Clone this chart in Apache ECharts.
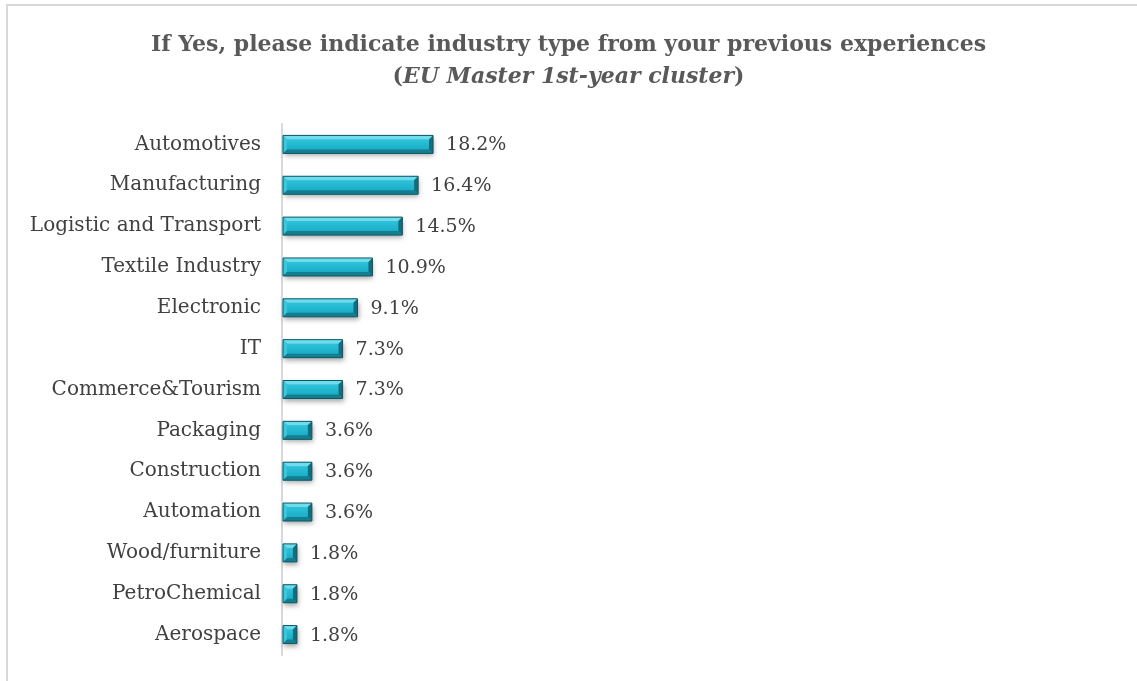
<!DOCTYPE html>
<html>
<head>
<meta charset="utf-8">
<script src="https://cdn.jsdelivr.net/npm/echarts@6/dist/echarts.min.js"></script>
<style>
  html, body { margin: 0; padding: 0; background: #fff; }
  #chart { width: 1137px; height: 681px; }
</style>
</head>
<body>
<div id="chart"></div>
<script>
// Industry types reported from previous work experience
const categories = [
  'Automotives', 'Manufacturing', 'Logistic and Transport', 'Textile Industry',
  'Electronic', 'IT', 'Commerce&Tourism', 'Packaging', 'Construction',
  'Automation', 'Wood/furniture', 'PetroChemical', 'Aerospace'
];
const shares = [18.2, 16.4, 14.5, 10.9, 9.1, 7.3, 7.3, 3.6, 3.6, 3.6, 1.8, 1.8, 1.8];

const titleLine1 = 'If Yes, please indicate industry type from your previous experiences';
const titleLine2 = 'EU Master 1st-year cluster';

const SERIF = "'DejaVu Serif', 'Liberation Serif', serif";

// Bevelled bar: a flat face framed by light/dark edge facets
function renderBevelBar(params, api) {
  const value = api.value(0);
  const idx = api.value(1);
  const start = api.coord([0, idx]);
  const end = api.coord([value, idx]);
  const h = 18;
  const x = start[0] + 1;
  const y = start[1] - h / 2;
  const w = end[0] - x;
  const b = Math.min(4, w / 2, h / 2);
  const poly = (pts, fill) => ({ type: 'polygon', shape: { points: pts }, style: { fill: fill } });
  return {
    type: 'group',
    children: [
      { type: 'rect', shape: { x: x, y: y, width: w, height: h },
        style: { fill: '#1aa9c0', shadowBlur: 5, shadowOffsetX: 1, shadowOffsetY: 3, shadowColor: 'rgba(0,0,0,0.35)' } },
      { type: 'rect', shape: { x: x + b, y: y + b, width: w - 2 * b, height: h - 2 * b },
        style: { fill: new echarts.graphic.LinearGradient(0, 0, 0, 1, [
          { offset: 0, color: '#2ec3da' }, { offset: 1, color: '#1aaec6' }]) } },
      poly([[x, y], [x + w, y], [x + w - b, y + b], [x + b, y + b]], '#6fdcee'),
      poly([[x, y], [x + b, y + b], [x + b, y + h - b], [x, y + h]], '#3cc6dc'),
      poly([[x + w, y], [x + w, y + h], [x + w - b, y + h - b], [x + w - b, y + b]], '#0f6f80'),
      poly([[x, y + h], [x + b, y + h - b], [x + w - b, y + h - b], [x + w, y + h]], '#147e90'),
      { type: 'rect', shape: { x: x, y: y, width: w, height: h },
        style: { fill: 'none', stroke: '#0d5865', lineWidth: 1 } },
      { type: 'text', x: end[0] + 13, y: start[1] + 1,
        style: { text: value.toFixed(1) + '%', fill: '#404040', font: "19px " + SERIF,
                 verticalAlign: 'middle', align: 'left' } }
    ]
  };
}

const chart = echarts.init(document.getElementById('chart'));
chart.setOption({
  backgroundColor: '#ffffff',
  animation: false,
  title: {
    left: 'center',
    top: 24,
    text: '{a|' + titleLine1 + '}\n{a|(}{b|' + titleLine2 + '}{a|)}',
    textStyle: {
      rich: {
        a: { fontFamily: SERIF, fontWeight: 'bold', fontSize: 22, color: '#595959', lineHeight: 32 },
        b: { fontFamily: SERIF, fontWeight: 'bold', fontStyle: 'italic', fontSize: 22, color: '#595959', lineHeight: 32 }
      }
    }
  },
  graphic: [{
    type: 'polyline',
    shape: { points: [[7, 681], [7, 5], [1137, 5]] },
    style: { stroke: '#d9d9d9', lineWidth: 2, fill: 'none' },
    silent: true
  }],
  grid: { left: 282, top: 124, width: 415, height: 531 },
  xAxis: {
    type: 'value', min: 0, max: 50, show: false
  },
  yAxis: {
    type: 'category',
    data: categories,
    inverse: true,
    offset: 1,
    axisLine: { show: true, lineStyle: { color: '#d9d9d9', width: 2 } },
    axisTick: { show: false },
    axisLabel: { margin: 20, color: '#404040', fontFamily: SERIF, fontSize: 20 }
  },
  series: [{
    type: 'custom',
    renderItem: renderBevelBar,
    encode: { x: 0, y: 1 },
    data: shares.map((v, i) => [v, i])
  }]
});
</script>
</body>
</html>
